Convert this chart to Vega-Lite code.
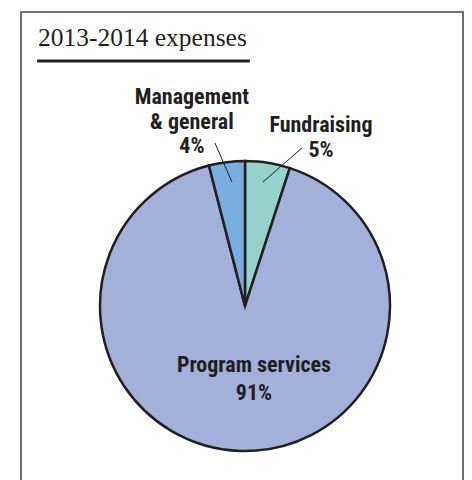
{
  "$schema": "https://vega.github.io/schema/vega-lite/v6.json",
  "width": 442,
  "height": 588,
  "autosize": "none",
  "padding": {"left": 21, "top": 12, "right": 9, "bottom": 0},
  "background": "white",
  "config": {"view": {"stroke": "#707070", "strokeWidth": 2}},
  "data": {
    "values": [
      {"category": "Fundraising", "value": 5, "label": ["Fundraising", "5%"]},
      {"category": "Program services", "value": 91, "label": ["Program services", "91%"]},
      {"category": "Management & general", "value": 4, "label": ["Management", "& general", "4%"]}
    ]
  },
  "layer": [
    {
      "mark": {"type": "arc", "outerRadius": 145, "stroke": "#231f20", "strokeWidth": 2.5},
      "encoding": {
        "theta": {"field": "value", "type": "quantitative", "stack": true, "scale": {"range": [-0.251327, 6.031858]}},
        "order": {"field": "value", "sort": "ascending"},
        "color": {
          "field": "category",
          "type": "nominal",
          "scale": {"domain": ["Program services", "Management & general", "Fundraising"], "range": ["#a3b0da", "#79aede", "#96d2cc"]},
          "legend": null
        },
        "x": {"datum": 0, "type": "quantitative", "scale": {"domain": [-154.48, 150.34], "nice": false, "zero": false}, "axis": null},
        "y": {"datum": 0, "type": "quantitative", "scale": {"domain": [-202.76, 202.76], "nice": false, "zero": false}, "axis": null}
      }
    },
    {
      "transform": [{"filter": "datum.category === 'Management & general'"}],
      "mark": {"type": "text", "font": "Roboto Condensed, DejaVu Sans Condensed", "fontWeight": "bold", "fontSize": 22, "lineHeight": 24.5, "align": "center", "baseline": "alphabetic", "color": "#231f20"},
      "encoding": {
        "text": {"field": "label"},
        "x": {"datum": -36.6, "type": "quantitative", "scale": {"domain": [-154.48, 150.34], "nice": false, "zero": false}, "axis": null},
        "y": {"datum": 139.3, "type": "quantitative", "scale": {"domain": [-202.76, 202.76], "nice": false, "zero": false}, "axis": null}
      }
    },
    {
      "transform": [{"filter": "datum.category === 'Fundraising'"}],
      "mark": {"type": "text", "font": "Roboto Condensed, DejaVu Sans Condensed", "fontWeight": "bold", "fontSize": 22, "lineHeight": 25, "align": "center", "baseline": "alphabetic", "color": "#231f20"},
      "encoding": {
        "text": {"field": "label"},
        "x": {"datum": 52.4, "type": "quantitative", "scale": {"domain": [-154.48, 150.34], "nice": false, "zero": false}, "axis": null},
        "y": {"datum": 120.0, "type": "quantitative", "scale": {"domain": [-202.76, 202.76], "nice": false, "zero": false}, "axis": null}
      }
    },
    {
      "transform": [{"filter": "datum.category === 'Program services'"}],
      "mark": {"type": "text", "font": "Roboto Condensed, DejaVu Sans Condensed", "fontWeight": "bold", "fontSize": 22, "lineHeight": 28, "align": "center", "baseline": "alphabetic", "color": "#231f20"},
      "encoding": {
        "text": {"field": "label"},
        "x": {"datum": 6.2, "type": "quantitative", "scale": {"domain": [-154.48, 150.34], "nice": false, "zero": false}, "axis": null},
        "y": {"datum": -45.5, "type": "quantitative", "scale": {"domain": [-202.76, 202.76], "nice": false, "zero": false}, "axis": null}
      }
    },
    {
      "transform": [{"filter": "datum.category === 'Management & general'"}],
      "mark": {"type": "rule", "stroke": "#231f20", "strokeWidth": 1},
      "encoding": {
        "x": {"datum": -20.7, "type": "quantitative", "scale": {"domain": [-154.48, 150.34], "nice": false, "zero": false}, "axis": null},
        "y": {"datum": 112.4, "type": "quantitative", "scale": {"domain": [-202.76, 202.76], "nice": false, "zero": false}, "axis": null},
        "x2": {"datum": -9.0},
        "y2": {"datum": 85.5}
      }
    },
    {
      "transform": [{"filter": "datum.category === 'Fundraising'"}],
      "mark": {"type": "rule", "stroke": "#231f20", "strokeWidth": 1},
      "encoding": {
        "x": {"datum": 39.3, "type": "quantitative", "scale": {"domain": [-154.48, 150.34], "nice": false, "zero": false}, "axis": null},
        "y": {"datum": 109.0, "type": "quantitative", "scale": {"domain": [-202.76, 202.76], "nice": false, "zero": false}, "axis": null},
        "x2": {"datum": 12.4},
        "y2": {"datum": 85.5}
      }
    },
    {
      "data": {"values": [{"title": "2013-2014 expenses"}]},
      "layer": [
        {
          "mark": {"type": "text", "font": "Liberation Serif", "fontSize": 25.5, "align": "left", "baseline": "alphabetic", "color": "#231f20"},
          "encoding": {
            "text": {"field": "title"},
            "x": {"datum": -142.8, "type": "quantitative", "scale": {"domain": [-154.48, 150.34], "nice": false, "zero": false}, "axis": null},
            "y": {"datum": 179.3, "type": "quantitative", "scale": {"domain": [-202.76, 202.76], "nice": false, "zero": false}, "axis": null}
          }
        },
        {
          "mark": {"type": "rule", "stroke": "#231f20", "strokeWidth": 3},
          "encoding": {
            "x": {"datum": -143.4, "type": "quantitative", "scale": {"domain": [-154.48, 150.34], "nice": false, "zero": false}, "axis": null},
            "y": {"datum": 169.0, "type": "quantitative", "scale": {"domain": [-202.76, 202.76], "nice": false, "zero": false}, "axis": null},
            "x2": {"datum": 3.4}
          }
        }
      ]
    }
  ]
}
